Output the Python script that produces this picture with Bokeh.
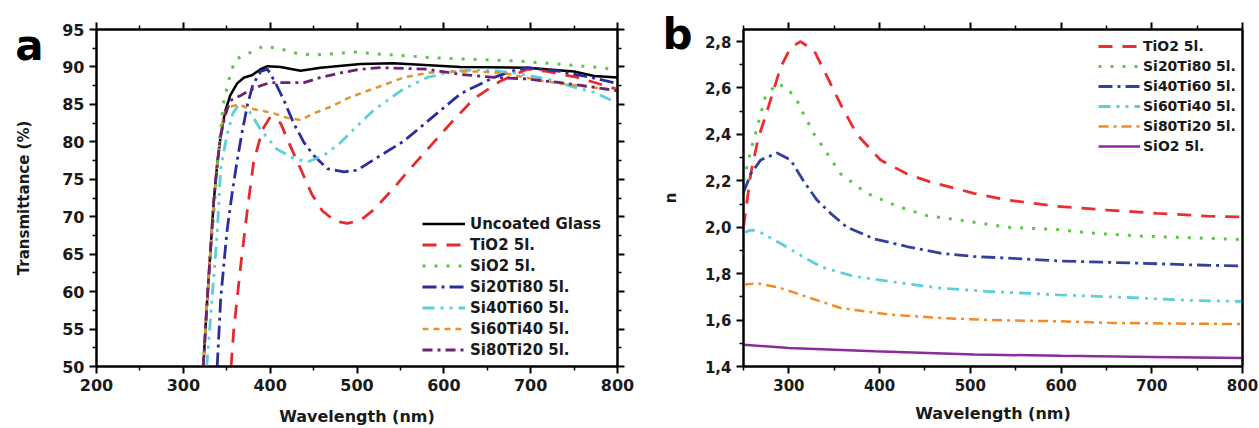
from bokeh.plotting import figure
from bokeh.models import (Range1d, FixedTicker, LinearAxis, Legend, LegendItem,
                          CustomJSTickFormatter)
from bokeh.layouts import row
from bokeh.embed import file_html
from bokeh.resources import INLINE

# ---------------- Panel a : transmittance ----------------
wl_glass = [323, 327, 331, 335, 339, 343, 348, 354, 362, 370, 379, 389, 397, 412, 435, 458, 504, 542, 619, 696, 750, 773, 800]
T_glass = [50, 58, 65, 72, 77, 80.8, 84, 86.2, 87.8, 88.6, 88.9, 89.7, 90.1, 90.0, 89.5, 89.9, 90.4, 90.5, 90.0, 89.9, 89.4, 88.8, 88.6]

wl_tio2 = [355, 358, 366, 374, 381, 391, 400, 412, 423, 435, 448, 460, 475, 489, 505, 520, 542, 562, 585, 608, 635, 665, 696, 719, 754, 800]
T_tio2 = [50, 54.8, 63.4, 71.2, 77.3, 81.6, 83.3, 82.5, 79.5, 76.4, 73.0, 70.8, 69.4, 69.1, 69.6, 71.0, 73.8, 76.5, 79.5, 82.5, 85.8, 88.1, 89.7, 89.4, 88.6, 87.0]

wl_sio2 = [323, 327, 331, 335, 340, 346, 354, 360, 375, 393, 412, 431, 450, 477, 496, 516, 592, 684, 742, 780, 800]
T_sio2 = [50, 58, 65, 70.4, 78, 85.1, 89.0, 91.0, 91.8, 92.8, 92.4, 91.8, 91.6, 91.8, 92.0, 91.8, 91.2, 90.8, 90.3, 89.9, 89.6]

wl_s20 = [339, 343, 350, 356, 362, 368, 374, 380, 389, 397, 406, 416, 427, 439, 450, 466, 485, 500, 519, 554, 588, 619, 638, 658, 677, 696, 734, 769, 800]
T_s20 = [50, 59, 67.8, 73, 77.5, 81.5, 85, 87.6, 89.4, 89.7, 87.9, 85.5, 82.5, 79.9, 78.2, 76.4, 76.0, 76.2, 77.6, 80.1, 83.4, 86.4, 87.5, 88.6, 89.4, 89.9, 89.4, 88.6, 87.8]

wl_s40 = [327, 333, 339, 343, 350, 357, 364, 374, 389, 408, 427, 443, 462, 481, 500, 519, 554, 581, 611, 646, 681, 719, 750, 773, 800]
T_s40 = [50, 59, 67.8, 76.4, 80.8, 83.8, 85.0, 84.5, 81.6, 79.0, 77.8, 77.3, 78.2, 79.9, 82.1, 84.2, 87.1, 88.6, 89.4, 89.7, 89.2, 88.4, 87.3, 86.6, 85.2]

wl_s60 = [323, 327, 331, 335, 339, 343, 347, 354, 364, 374, 389, 404, 420, 435, 450, 470, 489, 512, 554, 581, 611, 638, 669, 715, 754, 800]
T_s60 = [50, 58, 65, 72, 77, 81, 83.8, 84.7, 85.0, 84.5, 84.2, 83.8, 83.2, 82.9, 83.8, 84.7, 85.8, 86.8, 88.6, 89.2, 89.4, 89.4, 89.2, 88.1, 87.5, 86.9]

wl_s80 = [323, 327, 331, 335, 339, 343, 348, 354, 366, 377, 389, 400, 420, 439, 458, 481, 504, 527, 581, 619, 658, 696, 734, 773, 800]
T_s80 = [50, 58, 65, 72, 77, 80.8, 83.5, 85.5, 86.2, 86.9, 87.5, 87.9, 87.9, 87.9, 88.6, 89.2, 89.7, 89.9, 89.7, 89.0, 88.6, 88.4, 87.9, 87.3, 86.8]

names_a = ["Uncoated Glass", "TiO2 5l.", "SiO2 5l.", "Si20Ti80 5l.", "Si40Ti60 5l.", "Si60Ti40 5l.", "Si80Ti20 5l."]
x_ticks_a = [200, 300, 400, 500, 600, 700, 800]
y_ticks_a = [50, 55, 60, 65, 70, 75, 80, 85, 90, 95]

# ---------------- Panel b : refractive index ----------------
wlb_tio2 = [250, 258, 266, 276, 291, 302, 313, 328, 342, 357, 375, 401, 430, 456, 504, 541, 596, 651, 706, 761, 800]
n_tio2 = [2.0, 2.23, 2.38, 2.50, 2.69, 2.775, 2.80, 2.76, 2.65, 2.53, 2.40, 2.29, 2.23, 2.195, 2.146, 2.117, 2.09, 2.074, 2.06, 2.048, 2.044]

wlb_s20 = [250, 258, 265, 274, 287, 298, 309, 316, 328, 342, 357, 386, 420, 452, 489, 541, 596, 636, 688, 739, 800]
n_s20 = [2.20, 2.33, 2.43, 2.56, 2.62, 2.60, 2.546, 2.49, 2.40, 2.32, 2.23, 2.146, 2.09, 2.05, 2.03, 2.00, 1.99, 1.974, 1.962, 1.955, 1.947]

wlb_s40 = [250, 258, 269, 287, 302, 316, 331, 346, 364, 394, 430, 467, 504, 541, 596, 688, 743, 800]
n_s40 = [2.15, 2.23, 2.29, 2.32, 2.29, 2.20, 2.117, 2.06, 2.00, 1.95, 1.917, 1.888, 1.874, 1.867, 1.855, 1.845, 1.838, 1.833]

wlb_s60 = [250, 258, 265, 275, 291, 309, 335, 372, 423, 467, 522, 596, 688, 743, 800]
n_s60 = [1.975, 1.988, 1.985, 1.965, 1.93, 1.888, 1.83, 1.788, 1.76, 1.738, 1.723, 1.709, 1.695, 1.685, 1.68]

wlb_s80 = [250, 265, 291, 320, 357, 412, 467, 522, 596, 651, 724, 800]
n_s80 = [1.752, 1.759, 1.738, 1.70, 1.652, 1.623, 1.609, 1.60, 1.595, 1.588, 1.585, 1.583]

wlb_sio2 = [250, 300, 394, 504, 600, 700, 800]
n_sio2 = [1.494, 1.48, 1.466, 1.452, 1.446, 1.441, 1.437]

names_b = ["TiO2 5l.", "Si20Ti80 5l.", "Si40Ti60 5l.", "Si60Ti40 5l.", "Si80Ti20 5l.", "SiO2 5l."]
x_ticks_b = [300, 400, 500, 600, 700, 800]
y_ticks_b = [1.4, 1.6, 1.8, 2.0, 2.2, 2.4, 2.6, 2.8]

panel_labels = ["a", "b"]

FONT = "DejaVu Sans"


def style_axis(ax, size, labels=True):
    ax.axis_line_width = 2
    ax.axis_line_color = "black"
    ax.major_tick_line_width = 2
    ax.minor_tick_line_width = 1.5
    ax.major_tick_in = 0
    ax.minor_tick_in = 0
    ax.major_tick_out = 7
    ax.minor_tick_out = 4
    ax.major_label_text_font = FONT
    ax.major_label_text_font_style = "bold"
    ax.major_label_text_font_size = size
    ax.major_label_text_color = "#1a1a1a"
    ax.major_label_standoff = 5
    ax.axis_label_text_font = FONT
    ax.axis_label_text_font_style = "bold"
    ax.axis_label_text_color = "#1a1a1a"
    if not labels:
        ax.formatter = CustomJSTickFormatter(code="return '';")
        ax.major_label_text_font_size = "0px"


def letter_axis(letter, tick_pos, standoff, label, label_size, label_standoff):
    """Outer left axis: carries the panel letter as its only tick label and the axis title."""
    ax = LinearAxis(ticker=FixedTicker(ticks=[tick_pos], minor_ticks=[]),
                    formatter=CustomJSTickFormatter(args=dict(t=letter), code="return t;"))
    ax.axis_line_color = None
    ax.major_tick_line_color = None
    ax.minor_tick_line_color = None
    ax.major_tick_in = 0
    ax.major_tick_out = 0
    ax.minor_tick_in = 0
    ax.minor_tick_out = 0
    ax.major_label_standoff = standoff
    ax.major_label_text_font = FONT
    ax.major_label_text_font_style = "bold"
    ax.major_label_text_font_size = "42px"
    ax.major_label_text_color = "black"
    ax.axis_label = label
    ax.axis_label_text_font = FONT
    ax.axis_label_text_font_style = "bold"
    ax.axis_label_text_font_size = label_size
    ax.axis_label_text_color = "#1a1a1a"
    ax.axis_label_standoff = label_standoff
    return ax


# ---------- figure a ----------
pa = figure(width=640, height=428, output_backend="svg", toolbar_location=None,
            x_range=Range1d(200, 800), y_range=Range1d(50, 95),
            min_border_left=96, min_border_right=23, min_border_top=24, min_border_bottom=58)
pa.xgrid.visible = False
pa.ygrid.visible = False
pa.outline_line_color = "black"
pa.outline_line_width = 2

xt_a = FixedTicker(ticks=x_ticks_a, minor_ticks=[v + 50 for v in x_ticks_a[:-1]])
yt_a = FixedTicker(ticks=y_ticks_a, minor_ticks=[v + 2.5 for v in y_ticks_a[:-1]])
pa.xaxis.ticker = xt_a
pa.yaxis.ticker = yt_a
style_axis(pa.xaxis[0], "16px")
style_axis(pa.yaxis[0], "16px")
pa.xaxis.axis_label = "Wavelength (nm)"
pa.xaxis.axis_label_text_font_size = "16px"
pa.xaxis.axis_label_standoff = 13

pa.add_layout(letter_axis(panel_labels[0], 92.8, 16, "Transmittance (%)", "15px", -21), "left")

top_a = LinearAxis(ticker=xt_a)
style_axis(top_a, "16px", labels=False)
pa.add_layout(top_a, "above")
right_a = LinearAxis(ticker=yt_a)
style_axis(right_a, "16px", labels=False)
pa.add_layout(right_a, "right")

series_a = [
    (wl_glass, T_glass, "black", "solid", 2.5),
    (wl_tio2, T_tio2, "#E42A2E", "14 10", 2.8),
    (wl_sio2, T_sio2, "#5CC64A", "3 9", 3),
    (wl_s20, T_s20, "#2A2E9C", "14 5 3 5", 2.8),
    (wl_s40, T_s40, "#5CCFDD", "12 6 3 6 3 6", 2.8),
    (wl_s60, T_s60, "#E4942E", "6 5", 2.5),
    (wl_s80, T_s80, "#6C2276", "10 5 3 5", 2.8),
]
items_a = []
for (xs, ys, col, dash, w), nm in zip(series_a, names_a):
    r = pa.line(xs, ys, line_color=col, line_dash=dash, line_width=w)
    items_a.append(LegendItem(label=nm, renderers=[r]))

leg_a = Legend(items=items_a, location=(326, 6), border_line_color=None,
               background_fill_alpha=0, padding=0, margin=0, spacing=0,
               label_height=21, glyph_height=21, glyph_width=43, label_standoff=5,
               label_text_font=FONT, label_text_font_style="bold",
               label_text_font_size="15px", label_text_color="#1a1a1a")
pa.add_layout(leg_a)

# ---------- figure b ----------
pb = figure(width=619, height=428, output_backend="svg", toolbar_location=None,
            x_range=Range1d(250, 800), y_range=Range1d(1.4, 2.852),
            min_border_left=103, min_border_right=17, min_border_top=29, min_border_bottom=61)
pb.xgrid.visible = False
pb.ygrid.visible = False
pb.outline_line_color = "black"
pb.outline_line_width = 2

xt_b = FixedTicker(ticks=x_ticks_b, minor_ticks=[v - 50 for v in x_ticks_b])
yt_b = FixedTicker(ticks=y_ticks_b, minor_ticks=[round(v + 0.1, 2) for v in y_ticks_b])
pb.xaxis.ticker = xt_b
pb.yaxis.ticker = yt_b
style_axis(pb.xaxis[0], "15px")
style_axis(pb.yaxis[0], "15px")
pb.yaxis.formatter = CustomJSTickFormatter(code="return tick.toFixed(1).replace('.', ',');")
pb.xaxis.axis_label = "Wavelength (nm)"
pb.xaxis.axis_label_text_font_size = "16px"
pb.xaxis.axis_label_standoff = 10

pb.add_layout(letter_axis(panel_labels[1], 2.83, 9, "n", "15px", -21), "left")

top_b = LinearAxis(ticker=xt_b)
style_axis(top_b, "15px", labels=False)
pb.add_layout(top_b, "above")
right_b = LinearAxis(ticker=yt_b)
style_axis(right_b, "15px", labels=False)
right_b.major_tick_out = 0
right_b.minor_tick_out = 0
pb.add_layout(right_b, "right")

series_b = [
    (wlb_tio2, n_tio2, "#EE2B2F", "14 10", 2.8),
    (wlb_s20, n_s20, "#5CC64A", "3 9", 3),
    (wlb_s40, n_s40, "#34409E", "14 5 3 5", 2.8),
    (wlb_s60, n_s60, "#5CCFDD", "12 6 3 6 3 6", 2.8),
    (wlb_s80, n_s80, "#F58A22", "10 5 3 5", 2.5),
    (wlb_sio2, n_sio2, "#8B2A9B", "solid", 2.5),
]
items_b = []
for (xs, ys, col, dash, w), nm in zip(series_b, names_b):
    r = pb.line(xs, ys, line_color=col, line_dash=dash, line_width=w)
    items_b.append(LegendItem(label=nm, renderers=[r]))

leg_b = Legend(items=items_b, location=(355, 210), border_line_color=None,
               background_fill_alpha=0, padding=0, margin=0, spacing=0,
               label_height=20, glyph_height=20, glyph_width=42, label_standoff=3,
               label_text_font=FONT, label_text_font_style="bold",
               label_text_font_size="14px", label_text_color="#1a1a1a")
pb.add_layout(leg_b)

layout = row(pa, pb)
open("out.html", "w").write(file_html(layout, INLINE))
